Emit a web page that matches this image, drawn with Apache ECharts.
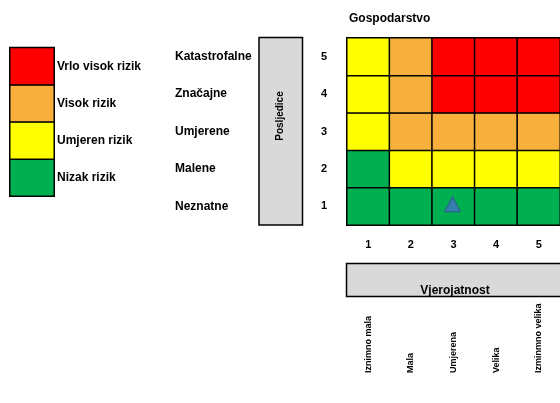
<!DOCTYPE html>
<html><head><meta charset="utf-8">
<script src="https://cdn.jsdelivr.net/npm/echarts@6/dist/echarts.min.js"></script>
<style>html,body{margin:0;padding:0;background:#fff}#c{width:560px;height:403px}</style>
</head><body><div id="c"></div>
<script>
// Data
const probNums = ['1', '2', '3', '4', '5'];
const probNames = ['Iznimno mala', 'Mala', 'Umjerena', 'Velika', 'Izminmno velika'];
const consNums = ['1', '2', '3', '4', '5'];
const consNames = ['Neznatne', 'Malene', 'Umjerene', 'Značajne', 'Katastrofalne'];
// risk level per row (consequence 1..5), per column (probability 1..5); 1=nizak,2=umjeren,3=visok,4=vrlo visok
const riskRow1 = [1, 1, 1, 1, 1];
const riskRow2 = [1, 2, 2, 2, 2];
const riskRow3 = [2, 3, 3, 3, 3];
const riskRow4 = [2, 3, 4, 4, 4];
const riskRow5 = [2, 3, 4, 4, 4];
const legendNames = ['Nizak rizik', 'Umjeren rizik', 'Visok rizik', 'Vrlo visok rizik'];
const legendLevels = [1, 2, 3, 4];
const markerProb = '3';
const markerCons = '1';
const title = 'Gospodarstvo';
const yTitle = 'Posljedice';
const xTitle = 'Vjerojatnost';

const levelColors = { 1: '#00b050', 2: '#ffff00', 3: '#f8b03c', 4: '#ff0000' };
const rows = [riskRow1, riskRow2, riskRow3, riskRow4, riskRow5];
const cells = [];
rows.forEach((r, yi) => r.forEach((lv, xi) => cells.push({ value: [xi, yi, lv], itemStyle: { color: levelColors[lv] } })));
const legendCells = legendLevels.map((lv, i) => ({ value: [0, i, lv], itemStyle: { color: levelColors[lv] } }));

const F = 'Liberation Sans, Arial, sans-serif';
const G = { left: 347, top: 38, width: 218.5, height: 187 };

const chart = echarts.init(document.getElementById('c'), null, { renderer: 'canvas' });
chart.setOption({
  animation: false,
  backgroundColor: '#fff',
  title: { text: title, left: 344, top: 8, textStyle: { fontFamily: F, fontSize: 12, fontWeight: 'bold', color: '#000' } },
  grid: [
    { left: G.left, top: G.top, width: G.width, height: G.height },
    { left: 10, top: 47.7, width: 44, height: 148.3 }
  ],
  xAxis: [
    { type: 'category', gridIndex: 0, data: probNums, position: 'bottom',
      axisLine: { show: false }, axisTick: { show: false }, splitLine: { show: false },
      axisLabel: { margin: 14, fontFamily: F, fontSize: 11, fontWeight: 'bold', color: '#000' } },
    { type: 'category', gridIndex: 0, data: probNames, position: 'bottom', offset: 148,
      axisLine: { show: false }, axisTick: { show: false },
      axisLabel: { margin: 0, rotate: 90, align: 'left', verticalAlign: 'middle', fontFamily: F, fontSize: 9, fontWeight: 'bold', color: '#000' } },
    { type: 'category', gridIndex: 1, data: ['x'], show: false }
  ],
  yAxis: [
    { type: 'category', gridIndex: 0, data: consNums,
      axisLine: { show: false }, axisTick: { show: false }, splitLine: { show: false },
      axisLabel: { margin: 20, fontFamily: F, fontSize: 11, fontWeight: 'bold', color: '#000' } },
    { type: 'category', gridIndex: 0, data: consNames, position: 'left', offset: 172,
      axisLine: { show: false }, axisTick: { show: false },
      axisLabel: { margin: 0, align: 'left', fontFamily: F, fontSize: 12, fontWeight: 'bold', color: '#000' } },
    { type: 'category', gridIndex: 1, data: legendNames, position: 'right',
      axisLine: { show: false }, axisTick: { show: false },
      axisLabel: { margin: 3, align: 'left', fontFamily: F, fontSize: 12, fontWeight: 'bold', color: '#000' } }
  ],
  series: [
    { type: 'heatmap', xAxisIndex: 0, yAxisIndex: 0, data: cells,
      itemStyle: { borderColor: '#000', borderWidth: 1.5 }, emphasis: { disabled: true } },
    { type: 'heatmap', xAxisIndex: 2, yAxisIndex: 2, data: legendCells,
      itemStyle: { borderColor: '#000', borderWidth: 1.5 }, emphasis: { disabled: true } },
    { type: 'scatter', xAxisIndex: 0, yAxisIndex: 0, symbol: 'triangle', symbolSize: [16, 15], symbolOffset: [-1, -2],
      data: [[markerProb, markerCons]],
      itemStyle: { color: '#4472c4', borderColor: '#2f528f', borderWidth: 1 }, z: 5 }
  ],
  graphic: [
    { type: 'rect', shape: { x: 259, y: 37.5, width: 43.5, height: 187.5 },
      style: { fill: '#d9d9d9', stroke: '#000', lineWidth: 1.5 } },
    { type: 'text', x: 280, y: 116, rotation: Math.PI / 2,
      style: { text: yTitle, fontFamily: F, fontSize: 10, fontWeight: 'bold', fill: '#000', align: 'center', verticalAlign: 'middle' } },
    { type: 'rect', shape: { x: 346.5, y: 263.5, width: 240, height: 33 },
      style: { fill: '#d9d9d9', stroke: '#000', lineWidth: 1.5 } },
    { type: 'text', x: 455, y: 290.5,
      style: { text: xTitle, fontFamily: F, fontSize: 12, fontWeight: 'bold', fill: '#000', align: 'center', verticalAlign: 'middle' } }
  ]
});
</script></body></html>
